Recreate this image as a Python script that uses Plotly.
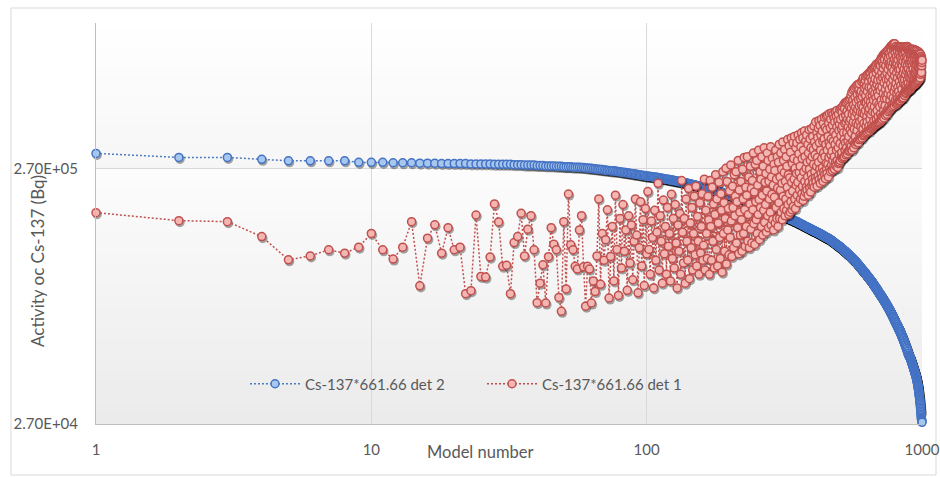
import math
import plotly.graph_objects as go

# Model numbers 1..1000 on a logarithmic x axis
model_number = list(range(1, 1001))

# Cs-137 activity (kBq), detector 2
det2_kbq = [
    309, 298, 298, 293, 289, 289, 289, 289, 285, 285,
    285, 284, 284, 284, 283, 283, 283, 282, 282, 282,
    282, 282, 281, 281, 281, 281, 281, 280, 280, 280,
    280, 280, 279, 279, 279, 278, 278, 278, 278, 277,
    277, 277, 276, 276, 276, 276, 275, 275, 275, 274,
    274, 274, 274, 273, 273, 273, 273, 272, 272, 271,
    271, 270, 270, 269, 269, 268, 268, 267, 267, 266,
    266, 265, 265, 264, 264, 264, 263, 263, 262, 262,
    261, 261, 260, 260, 259, 259, 258, 258, 257, 257,
    256, 256, 255, 255, 254, 254, 253, 253, 252, 252,
    252, 251, 251, 251, 250, 250, 249, 249, 249, 248,
    248, 247, 247, 247, 246, 246, 245, 245, 245, 244,
    244, 243, 243, 243, 242, 242, 241, 241, 241, 240,
    240, 239, 239, 239, 238, 238, 237, 237, 237, 236,
    236, 235, 235, 235, 234, 234, 233, 233, 233, 232,
    232, 231, 231, 231, 230, 230, 229, 229, 229, 228,
    228, 227, 227, 227, 226, 226, 225, 225, 225, 224,
    224, 223, 223, 223, 222, 222, 221, 221, 221, 220,
    220, 219, 219, 219, 218, 218, 217, 217, 217, 216,
    216, 215, 215, 215, 214, 214, 213, 213, 213, 212,
    212, 212, 211, 211, 211, 210, 210, 210, 209, 209,
    209, 208, 208, 208, 207, 207, 207, 206, 206, 206,
    205, 205, 205, 204, 204, 204, 203, 203, 203, 202,
    202, 202, 201, 201, 201, 200, 200, 200, 199, 199,
    199, 198, 198, 198, 197, 197, 197, 196, 196, 196,
    195, 195, 195, 194, 194, 194, 193, 193, 193, 192,
    192, 192, 191, 191, 191, 190, 190, 190, 189, 189,
    189, 188, 188, 188, 187, 187, 187, 186, 186, 186,
    185, 185, 185, 184, 184, 184, 183, 183, 183, 182,
    182, 182, 181, 181, 181, 180, 180, 180, 179, 179,
    179, 179, 179, 178, 178, 178, 178, 177, 177, 177,
    177, 176, 176, 176, 176, 175, 175, 175, 175, 174,
    174, 174, 174, 173, 173, 173, 173, 172, 172, 172,
    172, 171, 171, 171, 171, 170, 170, 170, 170, 169,
    169, 169, 169, 168, 168, 168, 168, 167, 167, 167,
    167, 166, 166, 166, 166, 165, 165, 165, 165, 164,
    164, 164, 164, 163, 163, 163, 163, 162, 162, 162,
    162, 161, 161, 161, 161, 160, 160, 160, 160, 159,
    159, 159, 159, 159, 158, 158, 158, 158, 157, 157,
    157, 157, 157, 156, 156, 156, 156, 155, 155, 155,
    155, 155, 154, 154, 154, 154, 154, 153, 153, 153,
    153, 153, 152, 152, 152, 152, 152, 151, 151, 151,
    151, 151, 150, 150, 150, 150, 150, 149, 149, 149,
    149, 148, 148, 148, 148, 148, 147, 147, 147, 147,
    147, 146, 146, 146, 146, 146, 145, 145, 145, 145,
    145, 145, 144, 144, 144, 144, 144, 143, 143, 143,
    143, 143, 142, 142, 142, 142, 141, 141, 141, 141,
    141, 140, 140, 140, 140, 139, 139, 139, 139, 138,
    138, 138, 138, 137, 137, 137, 137, 136, 136, 136,
    136, 136, 135, 135, 135, 135, 134, 134, 134, 134,
    134, 134, 133, 133, 133, 133, 132, 132, 132, 132,
    131, 131, 131, 131, 130, 130, 130, 130, 129, 129,
    129, 129, 128, 128, 128, 128, 128, 127, 127, 127,
    127, 126, 126, 126, 126, 125, 125, 125, 125, 125,
    124, 124, 124, 124, 123, 123, 123, 123, 122, 122,
    122, 122, 121, 121, 121, 121, 120, 120, 120, 120,
    120, 119, 119, 119, 119, 118, 118, 118, 118, 118,
    117, 117, 117, 117, 116, 116, 116, 116, 115, 115,
    115, 115, 114, 114, 114, 114, 113, 113, 113, 113,
    112, 112, 112, 112, 111, 111, 111, 111, 110, 110,
    110, 110, 109, 109, 109, 109, 108, 108, 108, 108,
    108, 107, 107, 107, 107, 106, 106, 106, 106, 106,
    105, 105, 105, 105, 104, 104, 104, 104, 103, 103,
    103, 103, 103, 102, 102, 102, 102, 101, 101, 101,
    101, 101, 100, 100, 100, 100, 99, 99, 99, 99,
    99, 98, 98, 98, 98, 98, 97, 97, 97, 97,
    96, 96, 96, 96, 95, 95, 95, 95, 95, 94,
    94, 94, 94, 93, 93, 93, 93, 93, 92, 92,
    92, 92, 91, 91, 91, 91, 91, 90, 90, 90,
    90, 89, 89, 89, 89, 89, 88, 88, 88, 88,
    88, 87, 87, 87, 87, 87, 86, 86, 86, 86,
    86, 85, 85, 85, 85, 85, 84, 84, 84, 84,
    84, 83, 83, 83, 83, 83, 82, 82, 82, 82,
    82, 81, 81, 81, 81, 81, 80, 80, 80, 80,
    80, 79, 79, 79, 79, 79, 78, 78, 78, 78,
    78, 77, 77, 77, 77, 77, 76, 76, 76, 76,
    76, 75, 75, 75, 75, 75, 74, 74, 74, 74,
    74, 73, 73, 73, 73, 73, 72, 72, 72, 72,
    72, 71, 71, 71, 71, 71, 70, 70, 70, 70,
    70, 69, 69, 69, 69, 69, 68, 68, 68, 68,
    68, 67, 67, 67, 67, 67, 67, 66, 66, 66,
    66, 66, 66, 65, 65, 65, 65, 65, 64, 64,
    64, 64, 64, 64, 63, 63, 63, 63, 63, 62,
    62, 62, 62, 62, 62, 61, 61, 61, 61, 61,
    60, 60, 60, 60, 60, 60, 59, 59, 59, 59,
    59, 58, 58, 58, 58, 58, 57, 57, 57, 57,
    57, 57, 56, 56, 56, 56, 56, 55, 55, 55,
    55, 55, 54, 54, 54, 54, 54, 54, 53, 53,
    53, 53, 53, 52, 52, 52, 52, 52, 51, 51,
    51, 51, 51, 51, 50, 50, 50, 50, 50, 50,
    49.8, 49.6, 49.5, 49.3, 49.1, 49.0, 48.8, 48.6, 48.5, 48.3,
    48.1, 48.0, 47.8, 47.6, 47.5, 47.3, 47.1, 47.0, 46.8, 46.6,
    46.5, 46.3, 46.1, 46.0, 45.8, 45.6, 45.5, 45.3, 45.1, 45.0,
    44.8, 44.6, 44.5, 44.3, 44.1, 44.0, 43.8, 43.6, 43.5, 43.3,
    43.1, 43.0, 42.8, 42.6, 42.5, 42.3, 42.1, 42.0, 41.8, 41.7,
    41.5, 41.3, 41.1, 40.9, 40.7, 40.5, 40.3, 40.1, 39.9, 39.7,
    39.4, 39.2, 38.9, 38.7, 38.4, 38.2, 37.9, 37.7, 37.4, 37.1,
    36.8, 36.5, 36.2, 35.9, 35.6, 35.3, 35.0, 34.7, 34.4, 34.0,
    33.7, 33.3, 33.0, 32.6, 32.3, 31.9, 31.5, 31.1, 30.7, 30.3,
    29.9, 29.5, 29.1, 28.7, 28.4, 28.2, 28.0, 27.8, 27.6, 27.4,
]

# Cs-137 activity (kBq), detector 1
det1_kbq = [
    181.2, 168.6, 167.1, 146.0, 118.5, 122.7, 129.7, 125.8, 132.8, 150.3,
    129.7, 119.3, 132.8, 167.1, 93.7, 144.0, 162.4, 125.8, 158.3, 129.7,
    132.8, 87.3, 89.7, 177.4, 102.0, 101.4, 121.4, 195.9, 166.6, 111.8,
    112.8, 87.3, 138.4, 146.0, 180.2, 122.7, 156.1, 176.3, 129.7, 80.5,
    96.0, 113.3, 80.3, 121.9, 158.3, 136.4, 129.7, 84.4, 74.5, 167.1,
    91.1, 214.3, 135.6, 129.7, 111.8, 109.0, 155.1, 176.3, 111.2, 78.0,
    111.8, 109.0, 80.3, 98.0, 89.0, 122.7, 205, 95, 150, 118,
    142, 186, 84, 122, 160, 98, 212, 130, 86, 172,
    110, 195, 128, 155, 90, 176, 115, 162, 99, 140,
    205, 148, 88, 132, 200, 112, 170, 94, 188, 125,
    219, 130, 104, 168, 145, 92, 185, 118, 152, 236,
    108, 176, 140, 96, 203, 125, 160, 104, 190, 134,
    150, 98, 214, 120, 172, 110, 195, 138, 92, 162,
    128, 180, 104, 242, 152, 115, 172, 96, 205, 140,
    118, 225, 100, 165, 132, 190, 108, 150, 210, 124,
    230, 112, 175, 140, 104, 198, 126, 160, 215, 118,
    135, 245, 108, 185, 150, 120, 210, 170, 104, 242,
    160, 118, 228, 140, 196, 110, 178, 255, 130, 205,
    112, 165, 238, 145, 120, 215, 185, 106, 262, 150,
    198, 128, 172, 270, 114, 240, 155, 188, 124, 220,
    145, 278, 168, 122, 230, 190, 132, 255, 176, 210,
    262, 138, 200, 158, 290, 125, 222, 182, 148, 240,
    170, 128, 268, 205, 150, 298, 186, 134, 228, 160,
    212, 300, 140, 178, 250, 132, 196, 275, 156, 225,
    138, 242, 186, 310, 164, 218, 136, 280, 200, 170,
    290, 150, 232, 178, 318, 204, 142, 262, 190, 245,
    160, 300, 212, 148, 275, 185, 325, 166, 238, 195,
    258, 152, 220, 310, 176, 290, 158, 240, 205, 268,
    182, 328, 162, 250, 214, 296, 170, 232, 155, 280,
    208, 265, 165, 318, 190, 245, 172, 300, 226, 160,
    285, 198, 335, 172, 250, 222, 310, 182, 268, 236,
    170, 342, 210, 290, 188, 260, 320, 176, 240, 205,
    300, 185, 275, 228, 350, 195, 255, 178, 330, 215,
    248, 182, 312, 200, 355, 238, 186, 282, 220, 340,
    192, 295, 245, 360, 205, 270, 188, 325, 232, 258,
    340, 212, 290, 238, 365, 198, 308, 260, 222, 350,
    275, 205, 328, 248, 372, 215, 295, 230, 355, 202,
    318, 262, 210, 378, 240, 300, 218, 345, 270, 228,
    365, 222, 285, 250, 335, 212, 310, 238, 382, 268,
    226, 352, 290, 218, 325, 256, 386, 232, 300, 245,
    360, 236, 320, 280, 395, 228, 342, 262, 305, 248,
    410, 240, 330, 275, 372, 230, 298, 356, 252, 388,
    285, 415, 244, 340, 268, 398, 236, 318, 365, 258,
    420, 295, 248, 378, 272, 345, 240, 405, 310, 262,
    352, 428, 255, 300, 390, 246, 335, 282, 432, 268,
    382, 258, 318, 436, 280, 360, 250, 405, 298, 340,
    442, 270, 330, 388, 262, 420, 305, 352, 278, 445,
    315, 265, 398, 290, 438, 345, 272, 375, 425, 300,
    268, 410, 335, 450, 285, 365, 276, 432, 318, 392,
    455, 290, 348, 272, 415, 325, 440, 282, 380, 305,
    402, 285, 458, 338, 290, 420, 362, 465, 300, 385,
    312, 448, 295, 395, 470, 330, 428, 298, 372, 480,
    350, 300, 462, 405, 318, 488, 340, 435, 305, 410,
    490, 325, 372, 452, 308, 420, 495, 345, 392, 315,
    440, 360, 500, 318, 412, 470, 335, 382, 505, 322,
    420, 520, 330, 465, 372, 535, 318, 440, 395, 500,
    345, 548, 410, 478, 325, 452, 385, 555, 338, 430,
    512, 360, 468, 335, 562, 405, 490, 342, 445, 570,
    380, 525, 345, 458, 575, 400, 340, 500, 428, 548,
    350, 472, 578, 412, 365, 530, 448, 352, 505, 392,
    540, 360, 478, 590, 420, 355, 515, 445, 600, 385,
    468, 610, 362, 532, 405, 575, 440, 365, 555, 490,
    370, 598, 455, 520, 618, 395, 488, 372, 565, 430,
    625, 410, 540, 375, 470, 630, 500, 382, 588, 448,
    395, 560, 638, 462, 378, 520, 420, 640, 490, 385,
    610, 440, 385, 560, 655, 475, 400, 595, 520, 388,
    660, 450, 540, 392, 625, 500, 668, 415, 580, 395,
    470, 672, 530, 398, 605, 445, 680, 560, 400, 510,
    640, 420, 690, 488, 402, 575, 455, 660, 535, 405,
    598, 695, 430, 520, 408, 650, 480, 700, 560, 412,
    620, 470, 710, 410, 545, 680, 440, 598, 720, 415,
    500, 730, 428, 640, 560, 420, 700, 480, 740, 610,
    430, 665, 530, 750, 455, 690, 425, 585, 755, 505,
    720, 440, 620, 475, 762, 550, 435, 680, 520, 770,
    600, 445, 745, 505, 640, 775, 440, 570, 710, 460,
    780, 530, 660, 450, 730, 600, 790, 470, 690, 550,
    455, 760, 620, 500, 800, 680, 460, 740, 580, 810,
    520, 705, 465, 785, 640, 815, 480, 670, 560, 820,
    470, 750, 600, 825, 510, 700, 478, 790, 650, 830,
    540, 805, 475, 720, 620, 830, 490, 765, 560, 685,
    800, 500, 700, 580, 810, 480, 740, 640, 795, 530,
    690, 485, 780, 610, 505, 805, 560, 720, 490, 660,
    808, 540, 750, 495, 680, 800, 590, 500, 770, 630,
    520, 795, 660, 498, 735, 808, 570, 700, 510, 785,
    615, 805, 505, 720, 550, 790, 680, 508, 760, 600,
    800, 520, 710, 640, 510, 785, 580, 750, 530, 808,
    660, 525, 790, 600, 730, 520, 805, 570, 690, 540,
    770, 630, 530, 800, 560, 715, 535, 795, 650, 545,
    740, 810, 550, 680, 600, 790, 540, 725, 805, 580,
    660, 545, 785, 620, 800, 560, 700, 548, 760, 640,
    790, 560, 690, 610, 775, 550, 735, 650, 790, 580,
    720, 555, 780, 630, 700, 560, 790, 600, 750, 565,
    680, 785, 570, 720, 620, 770, 568, 660, 790, 590,
    745, 572, 700, 780, 610, 575, 760, 640, 725, 580,
    785, 600, 690, 575, 770, 640, 580, 740, 660, 780,
    590, 720, 780, 620, 690, 585, 765, 650, 600, 740,
    775, 610, 700, 590, 760, 640, 595, 730, 670, 605,
    750, 615, 700, 770, 630, 600, 720, 660, 760, 610,
    690, 620, 745, 640, 610, 700, 755, 630, 680, 720,
    650, 740, 660, 700, 640, 730, 680, 720, 700, 715,
]

assert len(det2_kbq) == len(model_number) == len(det1_kbq)

series_names = ["Cs-137*661.66 det 2", "Cs-137*661.66 det 1"]
x_ticks = [1, 10, 100, 1000]
y_ticks = [27000, 270000]
y_tick_text = ["2.70E+04", "2.70E+05"]
y_top = 1.0e6

det2 = [v * 1000 for v in det2_kbq]
det1 = [v * 1000 for v in det1_kbq]

FONT = "Lato"
TXT = "#595959"
MS = 8

fig = go.Figure()


def shadow(y):
    # soft drop shadow, offset slightly right and down
    return go.Scatter(
        x=[v * 1.009 for v in model_number], y=[v * 0.984 for v in y],
        mode="markers", showlegend=False, hoverinfo="skip", cliponaxis=False,
        marker=dict(size=MS + 1.5, color="rgba(0,0,0,0.35)", line=dict(width=0)),
    )


fig.add_trace(shadow(det2))
fig.add_trace(go.Scatter(
    x=model_number, y=det2, name=series_names[0], mode="lines+markers",
    cliponaxis=False,
    line=dict(color="#4a7ebb", width=1.5, dash="2px,2px"),
    marker=dict(symbol="circle", size=MS, color="#a7c7ee",
                line=dict(color="#4472c4", width=1.5)),
))
fig.add_trace(shadow(det1))
fig.add_trace(go.Scatter(
    x=model_number, y=det1, name=series_names[1], mode="lines+markers",
    cliponaxis=False,
    line=dict(color="#c0504d", width=1.5, dash="2px,2px"),
    marker=dict(symbol="circle", size=MS, color="#f4b6b3",
                line=dict(color="#c0504d", width=1.5)),
))

# plot-area banding: soft vertical gradient inside each decade band
y_lo = math.log10(y_ticks[0])
y_hi = math.log10(y_top)
g = (math.log10(y_ticks[1]) - y_lo) / (y_hi - y_lo)
shapes = []
n_strips = 24
for f0, f1, c_bot, c_top in [(0.0, g, 235, 252), (g, 1.0, 246, 255)]:
    for i in range(n_strips):
        a = f0 + (f1 - f0) * i / n_strips
        b = f0 + (f1 - f0) * (i + 1) / n_strips
        c = round(c_bot + (c_top - c_bot) * (i + 0.5) / n_strips)
        shapes.append(dict(type="rect", xref="x domain", yref="y domain",
                           x0=0, x1=1, y0=a, y1=min(b + 0.002, 1.0), layer="below",
                           line=dict(width=0), fillcolor=f"rgb({c},{c},{c})"))

# outer chart frame
W, H = 940, 477
L, R, T, B = 96, 18, 23, 53
pw, ph = W - L - R, H - T - B


def px(xp):
    return (xp - L) / pw


def py(yp):
    return (H - B - yp) / ph


shapes.append(dict(type="rect", xref="paper", yref="paper",
                   x0=px(11), x1=px(936), y0=py(475), y1=py(8),
                   line=dict(color="#d9d9d9", width=1), layer="below"))

fig.update_layout(
    width=W, height=H,
    margin=dict(l=L, r=R, t=T, b=B, autoexpand=False),
    paper_bgcolor="white", plot_bgcolor="white",
    font=dict(family=FONT, size=15, color=TXT),
    shapes=shapes,
    showlegend=True,
    legend=dict(orientation="h", x=px(245), y=py(384), xanchor="left", yanchor="middle",
                bgcolor="rgba(0,0,0,0)", font=dict(family=FONT, size=15, color=TXT),
                itemwidth=50, entrywidth=172, entrywidthmode="pixels",
                traceorder="normal"),
    annotations=[
        dict(text="Activity oc Cs-137 (Bq)", xref="paper", yref="paper",
             x=px(37), y=py(261), textangle=-90, showarrow=False,
             xanchor="center", yanchor="middle", font=dict(size=17, color=TXT)),
        dict(text="Model number", xref="paper", yref="paper",
             x=px(480), y=py(452), showarrow=False,
             xanchor="center", yanchor="middle", font=dict(size=16.5, color=TXT)),
    ],
)

fig.update_xaxes(
    type="log", range=[0, 3], tickvals=x_ticks, ticktext=[str(t) for t in x_ticks],
    showgrid=True, gridcolor="#d9d9d9", gridwidth=1, zeroline=False,
    showline=True, linecolor="#bfbfbf", linewidth=1, ticks="", automargin=False,
    ticklabelstandoff=12, tickfont=dict(size=15, color=TXT),
)
fig.update_yaxes(
    type="log", range=[y_lo, y_hi], tickvals=y_ticks, ticktext=y_tick_text,
    showgrid=True, gridcolor="#d9d9d9", gridwidth=1, zeroline=False,
    showline=True, linecolor="#bfbfbf", linewidth=1, ticks="", automargin=False,
    ticklabelstandoff=14, tickfont=dict(size=15, color=TXT),
)

fig.write_html("out.html")
